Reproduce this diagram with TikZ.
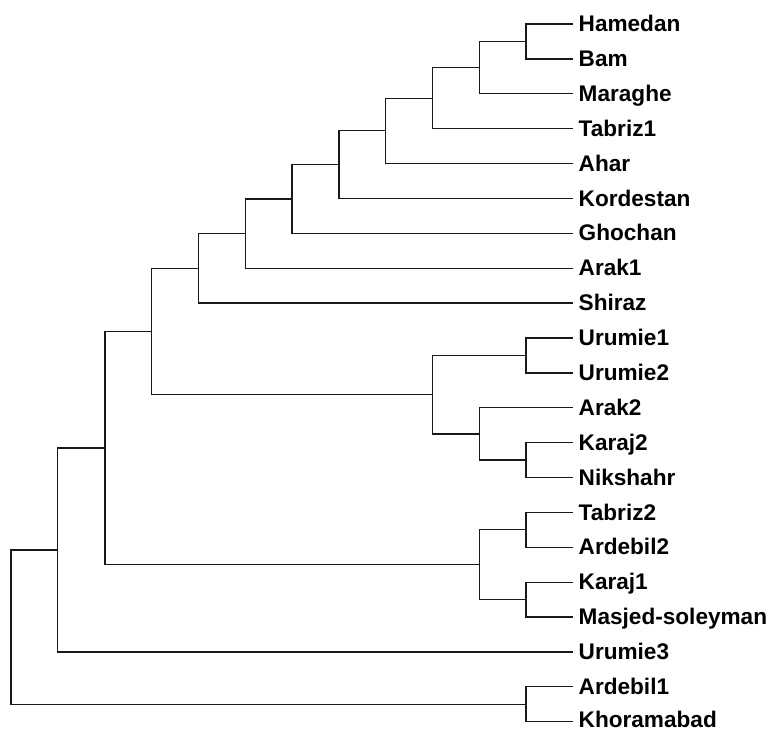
\documentclass[tikz,border=0pt]{standalone}
\usepackage{fontspec}
\setmainfont{Liberation Sans}
\begin{document}
\begin{tikzpicture}[x=1pt,y=-1pt,
  br/.style={line width=1.3pt,draw=black!90},
  lab/.style={anchor=base west,inner sep=0pt,font=\fontsize{22.6}{26}\selectfont\bfseries}]
\useasboundingbox (0,0) rectangle (769,729);
% leaf ends
\coordinate (l0) at (573.3,24.0);
\coordinate (l1) at (573.3,58.9);
\coordinate (l2) at (573.3,93.8);
\coordinate (l3) at (573.3,128.7);
\coordinate (l4) at (573.3,163.5);
\coordinate (l5) at (573.3,198.4);
\coordinate (l6) at (573.3,233.3);
\coordinate (l7) at (573.3,268.2);
\coordinate (l8) at (573.3,303.1);
\coordinate (l9) at (573.3,338.0);
\coordinate (l10) at (573.3,372.9);
\coordinate (l11) at (573.3,407.7);
\coordinate (l12) at (573.3,442.6);
\coordinate (l13) at (573.3,477.5);
\coordinate (l14) at (573.3,512.4);
\coordinate (l15) at (573.3,547.3);
\coordinate (l16) at (573.3,582.2);
\coordinate (l17) at (573.3,617.0);
\coordinate (l18) at (573.3,651.9);
\coordinate (l19) at (573.3,686.8);
\coordinate (l20) at (573.3,721.7);
% labels
\node[lab] (L0) at (578.5,31.6) {Hamedan};
\node[lab] (L1) at (578.5,66.5) {Bam};
\node[lab] (L2) at (578.5,101.4) {Maraghe};
\node[lab] (L3) at (578.5,136.3) {Tabriz1};
\node[lab] (L4) at (578.5,171.1) {Ahar};
\node[lab] (L5) at (578.5,206.0) {Kordestan};
\node[lab] (L6) at (578.5,240.9) {Ghochan};
\node[lab] (L7) at (578.5,275.8) {Arak1};
\node[lab] (L8) at (578.5,310.7) {Shiraz};
\node[lab] (L9) at (578.5,345.6) {Urumie1};
\node[lab] (L10) at (578.5,380.5) {Urumie2};
\node[lab] (L11) at (578.5,415.3) {Arak2};
\node[lab] (L12) at (578.5,450.2) {Karaj2};
\node[lab] (L13) at (578.5,485.1) {Nikshahr};
\node[lab] (L14) at (578.5,520.0) {Tabriz2};
\node[lab] (L15) at (578.5,554.9) {Ardebil2};
\node[lab] (L16) at (578.5,589.8) {Karaj1};
\node[lab] (L17) at (578.5,624.6) {Masjed-soleyman};
\node[lab] (L18) at (578.5,659.5) {Urumie3};
\node[lab] (L19) at (578.5,694.4) {Ardebil1};
\node[lab] (L20) at (578.5,727.4) {Khoramabad};
% internal nodes
\coordinate (n1) at (526,41.5);
\coordinate (n2) at (479.3,67.6);
\coordinate (n3) at (432.7,98.2);
\coordinate (n4) at (385.7,130.8);
\coordinate (n5) at (339,164.6);
\coordinate (n6) at (292,199.0);
\coordinate (n7) at (245.3,233.6);
\coordinate (n8) at (198.7,268.3);
\coordinate (m1) at (526,355.4);
\coordinate (m2) at (526,460.0);
\coordinate (m3) at (479.3,433.9);
\coordinate (m4) at (432.7,394.6);
\coordinate (n9) at (151.7,331.5);
\coordinate (t1) at (526,529.8);
\coordinate (t2) at (526,599.6);
\coordinate (t3) at (479.3,564.7);
\coordinate (n10) at (105,448.1);
\coordinate (n11) at (57.7,550);
\coordinate (a1) at (526,704.2);
\coordinate (root) at (11,627.1);
% branches
\draw[br] (n1) |- (l0); \draw[br] (n1) |- (l1);
\draw[br] (n2) |- (n1); \draw[br] (n2) |- (l2);
\draw[br] (n3) |- (n2); \draw[br] (n3) |- (l3);
\draw[br] (n4) |- (n3); \draw[br] (n4) |- (l4);
\draw[br] (n5) |- (n4); \draw[br] (n5) |- (l5);
\draw[br] (n6) |- (n5); \draw[br] (n6) |- (l6);
\draw[br] (n7) |- (n6); \draw[br] (n7) |- (l7);
\draw[br] (n8) |- (n7); \draw[br] (n8) |- (l8);
\draw[br] (m1) |- (l9); \draw[br] (m1) |- (l10);
\draw[br] (m2) |- (l12); \draw[br] (m2) |- (l13);
\draw[br] (m3) |- (l11); \draw[br] (m3) |- (m2);
\draw[br] (m4) |- (m1); \draw[br] (m4) |- (m3);
\draw[br] (n9) |- (n8); \draw[br] (n9) |- (m4);
\draw[br] (t1) |- (l14); \draw[br] (t1) |- (l15);
\draw[br] (t2) |- (l16); \draw[br] (t2) |- (l17);
\draw[br] (t3) |- (t1); \draw[br] (t3) |- (t2);
\draw[br] (n10) |- (n9); \draw[br] (n10) |- (t3);
\draw[br] (n11) |- (n10); \draw[br] (n11) |- (l18);
\draw[br] (a1) |- (l19); \draw[br] (a1) |- (l20);
\draw[br] (root) |- (n11); \draw[br] (root) |- (a1);
\end{tikzpicture}
\end{document}
